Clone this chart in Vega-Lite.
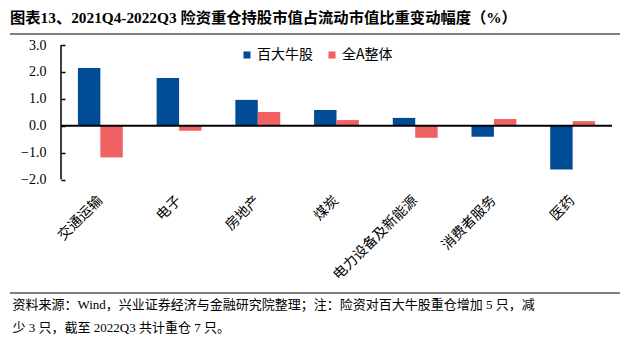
{
  "$schema": "https://vega.github.io/schema/vega-lite/v6.json",
  "width": 551,
  "height": 259,
  "autosize": {"type": "none"},
  "padding": {"left": 61, "top": 34, "right": 17, "bottom": 52},
  "background": "white",
  "title": {
    "text": "图表13、2021Q4-2022Q3 险资重仓持股市值占流动市值比重变动幅度（%）",
    "anchor": "start",
    "frame": "group",
    "dx": -51,
    "offset": 7,
    "font": "Liberation Serif, Noto Sans CJK SC",
    "fontSize": 15.3,
    "fontWeight": "bold",
    "color": "black"
  },
  "config": {
    "view": {"stroke": null},
    "font": "Liberation Serif, Noto Sans CJK SC"
  },
  "datasets": {
    "bars": [
      {"industry": "交通运输", "series": "百大牛股", "value": 2.15},
      {"industry": "交通运输", "series": "全A整体", "value": -1.18},
      {"industry": "电子", "series": "百大牛股", "value": 1.77},
      {"industry": "电子", "series": "全A整体", "value": -0.19},
      {"industry": "房地产", "series": "百大牛股", "value": 0.96},
      {"industry": "房地产", "series": "全A整体", "value": 0.51},
      {"industry": "煤炭", "series": "百大牛股", "value": 0.58},
      {"industry": "煤炭", "series": "全A整体", "value": 0.21},
      {"industry": "电力设备及新能源", "series": "百大牛股", "value": 0.29},
      {"industry": "电力设备及新能源", "series": "全A整体", "value": -0.45},
      {"industry": "消费者服务", "series": "百大牛股", "value": -0.41},
      {"industry": "消费者服务", "series": "全A整体", "value": 0.25},
      {"industry": "医药", "series": "百大牛股", "value": -1.63},
      {"industry": "医药", "series": "全A整体", "value": 0.17}
    ],
    "frame": [
      {"value": 3.41},
      {"value": -6.22}
    ],
    "yaxis": [
      {"value": -2, "end": 3}
    ],
    "zero": [
      {"value": 0}
    ]
  },
  "resolve": {"scale": {"x": "independent"}},
  "encoding": {
    "y": {
      "field": "value",
      "type": "quantitative",
      "scale": {"domain": [-6.22, 3.41], "nice": false, "zero": false},
      "axis": {
        "values": [-2, -1, 0, 1, 2, 3],
        "format": ".1f",
        "labelOverlap": false,
        "grid": false,
        "domain": false,
        "tickColor": "black",
        "tickWidth": 1.5,
        "tickSize": -4,
        "labelPadding": 19,
        "labelFont": "Liberation Serif",
        "labelFontSize": 14,
        "labelColor": "black",
        "title": null
      }
    }
  },
  "layer": [
    {
      "data": {"name": "bars"},
      "mark": {"type": "bar"},
      "encoding": {
        "x": {
          "field": "industry",
          "type": "nominal",
          "sort": ["交通运输", "电子", "房地产", "煤炭", "电力设备及新能源", "消费者服务", "医药"],
          "scale": {"paddingInner": 0.43, "paddingOuter": 0.215},
          "axis": {
            "domain": false,
            "ticks": false,
            "offset": -113,
            "labelAngle": -45,
            "labelAlign": "right",
            "labelBaseline": "middle",
            "labelPadding": 18,
            "labelFont": "Noto Sans CJK SC",
            "labelFontSize": 14,
            "labelColor": "black",
            "title": ["资料来源：Wind，兴业证券经济与金融研究院整理；注：险资对百大牛股重仓增加 5 只，减", "少 3 只，截至 2022Q3 共计重仓 7 只。"],
            "titleAnchor": "start",
            "titleAlign": "left",
            "titleBaseline": "top",
            "titleX": -49,
            "titleY": 118,
            "titleFont": "Liberation Serif, Noto Sans CJK SC",
            "titleFontSize": 13,
            "titleFontWeight": "normal",
            "titleLineHeight": 23,
            "titleColor": "black"
          }
        },
        "xOffset": {
          "field": "series",
          "type": "nominal",
          "sort": ["百大牛股", "全A整体"],
          "scale": {"paddingInner": 0, "paddingOuter": 0}
        },
        "color": {
          "field": "series",
          "type": "nominal",
          "sort": ["百大牛股", "全A整体"],
          "scale": {"range": ["#004C97", "#F06262"]},
          "legend": {
            "title": null,
            "orient": "none",
            "direction": "horizontal",
            "legendX": 179,
            "legendY": 14,
            "symbolType": "square",
            "symbolSize": 50,
            "symbolStrokeWidth": 0,
            "labelFont": "Noto Sans CJK SC",
            "labelFontSize": 14,
            "labelColor": "black",
            "columnPadding": 12,
            "labelOffset": 3
          }
        }
      }
    },
    {
      "data": {"name": "zero"},
      "mark": {"type": "rule", "color": "black", "strokeWidth": 2},
      "encoding": {}
    },
    {
      "data": {"name": "yaxis"},
      "mark": {"type": "rule", "color": "black", "strokeWidth": 1.5},
      "encoding": {
        "y2": {"field": "end"},
        "x": {"datum": 0, "type": "quantitative", "scale": {"domain": [0, 1], "nice": false, "zero": false}, "axis": null}
      }
    },
    {
      "data": {"name": "frame"},
      "mark": {"type": "rule", "color": "black", "strokeWidth": 1},
      "encoding": {
        "x": {"datum": -0.0926, "type": "quantitative", "scale": {"domain": [0, 1], "nice": false, "zero": false}, "axis": null},
        "x2": {"datum": 1.0145}
      }
    }
  ]
}
